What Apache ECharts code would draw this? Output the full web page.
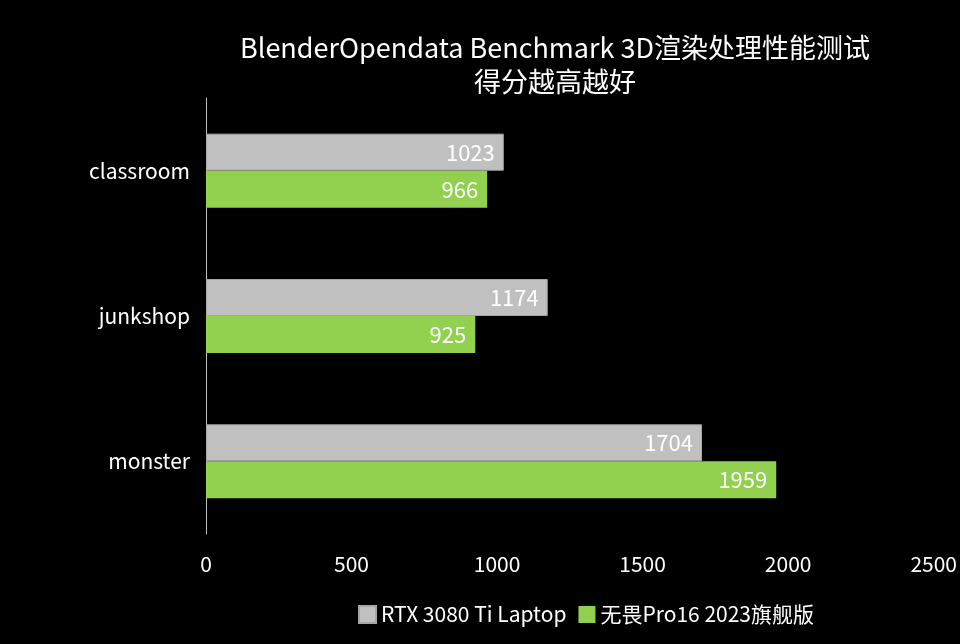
<!DOCTYPE html>
<html><head><meta charset="utf-8">
<script src="https://cdn.jsdelivr.net/npm/echarts@6/dist/echarts.min.js"></script>
<style>html,body{margin:0;padding:0;background:#000;}#c{width:960px;height:644px;}</style>
</head><body><div id="c"></div>
<script>
const categories = ['classroom', 'junkshop', 'monster'];
const seriesNames = ['RTX 3080 Ti Laptop', '无畏Pro16 2023旗舰版'];
const rtxValues = [1023, 1174, 1704];
const proValues = [966, 925, 1959];
const xTicks = { min: 0, max: 2500, interval: 500 };
const FONT = '"Noto Sans CJK SC", "Noto Sans", sans-serif';

const chart = echarts.init(document.getElementById('c'));
chart.setOption({
  backgroundColor: '#000',
  textStyle: { fontFamily: FONT },
  title: {
    text: 'BlenderOpendata Benchmark 3D渲染处理性能测试\n得分越高越好',
    left: 550, top: 26, itemGap: 0, textAlign: 'center',
    textStyle: { color: '#fff', fontSize: 27, fontWeight: 'normal', fontFamily: FONT, lineHeight: 34 }
  },
  legend: {
    top: 599, left: 353,
    itemWidth: 17, itemHeight: 17, itemGap: 12,
    icon: 'rect',
    textStyle: { color: '#fff', fontSize: 21, fontFamily: FONT },
    data: seriesNames
  },
  grid: { left: 206, right: 24, top: 98, bottom: 110 },
  xAxis: {
    type: 'value', min: xTicks.min, max: xTicks.max, interval: xTicks.interval,
    axisLine: { show: false }, axisTick: { show: false }, splitLine: { show: false },
    axisLabel: { color: '#fff', fontSize: 21, margin: 20, fontFamily: FONT, formatter: v => String(v) }
  },
  yAxis: {
    type: 'category', data: categories, inverse: true,
    axisLine: { show: true, lineStyle: { color: '#bfbfbf', width: 1 } },
    axisTick: { show: false },
    axisLabel: { color: '#fff', fontSize: 21, margin: 16, fontFamily: FONT }
  },
  series: [
    {
      name: seriesNames[0], type: 'bar', data: rtxValues, barWidth: 37, barGap: '0%',
      itemStyle: { color: '#c0c0c0', borderColor: '#a6a6a6', borderWidth: 1 },
      label: { show: true, position: 'insideRight', color: '#fff', fontSize: 22, offset: [-4, 0], fontFamily: FONT, formatter: p => String(p.value) }
    },
    {
      name: seriesNames[1], type: 'bar', data: proValues, barWidth: 37, barGap: '0%',
      itemStyle: { color: '#92d050' },
      label: { show: true, position: 'insideRight', color: '#fff', fontSize: 22, offset: [-4, 0], fontFamily: FONT, formatter: p => String(p.value) }
    }
  ]
});
</script></body></html>
